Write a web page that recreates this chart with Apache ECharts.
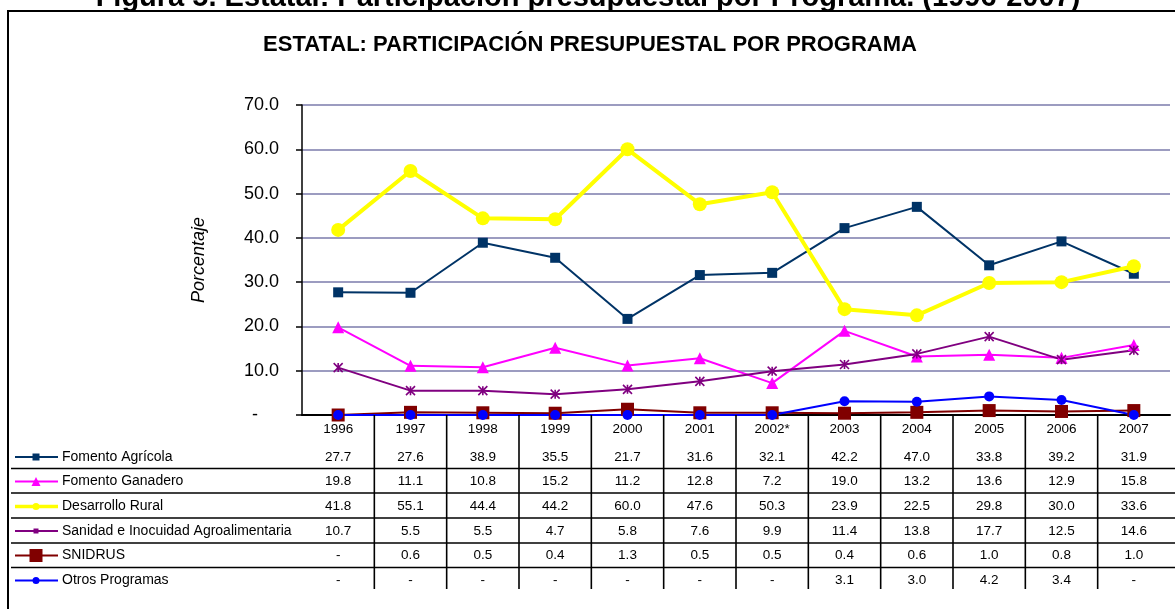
<!DOCTYPE html>
<html>
<head>
<meta charset="utf-8">
<script src="https://cdn.jsdelivr.net/npm/echarts@6/dist/echarts.min.js"></script>
<style>
html, body { margin: 0; padding: 0; background: #fff; }
#chart { width: 1175px; height: 609px; }
</style>
</head>
<body>
<div id="chart"></div>
<script>
// datos de la tabla (null = "-")
var years = ['1996', '1997', '1998', '1999', '2000', '2001', '2002*', '2003', '2004', '2005', '2006', '2007'];
var fomentoAgricola = [27.7, 27.6, 38.9, 35.5, 21.7, 31.6, 32.1, 42.2, 47.0, 33.8, 39.2, 31.9];
var fomentoGanadero = [19.8, 11.1, 10.8, 15.2, 11.2, 12.8, 7.2, 19.0, 13.2, 13.6, 12.9, 15.8];
var desarrolloRural = [41.8, 55.1, 44.4, 44.2, 60.0, 47.6, 50.3, 23.9, 22.5, 29.8, 30.0, 33.6];
var sanidad = [10.7, 5.5, 5.5, 4.7, 5.8, 7.6, 9.9, 11.4, 13.8, 17.7, 12.5, 14.6];
var snidrus = [null, 0.6, 0.5, 0.4, 1.3, 0.5, 0.5, 0.4, 0.6, 1.0, 0.8, 1.0];
var otrosProgramas = [null, null, null, null, null, null, null, 3.1, 3.0, 4.2, 3.4, null];

var seriesNames = ['Fomento Agrícola', 'Fomento Ganadero', 'Desarrollo Rural',
    'Sanidad e Inocuidad Agroalimentaria', 'SNIDRUS', 'Otros Programas'];
var seriesValues = [fomentoAgricola, fomentoGanadero, desarrolloRural, sanidad, snidrus, otrosProgramas];

var FONT = '"Liberation Sans", Arial, sans-serif';
var asterisk = 'path://M5,0L5,10M0,0L10,10M10,0L0,10';

// estilo de cada programa
var styles = [
    { color: '#003366', width: 2, symbol: 'rect', size: 10, key: 'rect', keySize: 7 },
    { color: '#FF00FF', width: 2, symbol: 'triangle', size: 12, key: 'triangle', keySize: 9 },
    { color: '#FFFF00', width: 4, symbol: 'circle', size: 14, key: 'circle', keySize: 7 },
    { color: '#800080', width: 2, symbol: asterisk, size: 9, key: 'rect', keySize: 5 },
    { color: '#800000', width: 2, symbol: 'rect', size: 13, key: 'rect', keySize: 13 },
    { color: '#0000FF', width: 2, symbol: 'circle', size: 10, key: 'circle', keySize: 7 }
];

var series = seriesNames.map(function (name, i) {
    var s = styles[i];
    return {
        name: name,
        type: 'line',
        data: seriesValues[i].map(function (v) { return v == null ? 0 : v; }),   // "-" se grafica en 0
        symbol: s.symbol,
        symbolSize: s.size,
        showAllSymbol: true,
        lineStyle: { color: s.color, width: s.width },
        itemStyle: { color: s.color, borderColor: s.color, borderWidth: s.symbol === asterisk ? 1.6 : 0 },
        emphasis: { disabled: true }
    };
});

var option = {
    animation: false,
    backgroundColor: '#fff',
    textStyle: { fontFamily: FONT },
    grid: { left: 302, right: 5, top: 105, bottom: 194, containLabel: false, outerBoundsMode: 'none' },
    xAxis: {
        type: 'category',
        data: years,
        boundaryGap: true,
        axisLine: { lineStyle: { color: '#000', width: 2 } },
        axisTick: { show: false },
        axisLabel: { color: '#000', fontSize: 13.5, margin: 7, fontFamily: FONT, interval: 0 },
        splitLine: { show: false }
    },
    yAxis: {
        type: 'value',
        min: 0,
        max: 70,
        interval: 10,
        name: 'Porcentaje',
        nameLocation: 'middle',
        nameGap: 94,
        nameTextStyle: { color: '#000', fontSize: 18, fontStyle: 'italic', fontFamily: FONT },
        axisLine: { show: true, lineStyle: { color: '#000', width: 1.5 } },
        axisTick: { show: true, length: 6, lineStyle: { color: '#000', width: 1.5 } },
        axisLabel: {
            color: '#000', fontSize: 18, margin: 23, fontFamily: FONT,
            formatter: function (v) { return v === 0 ? '{d|-}' : v.toFixed(1); },
            rich: { d: { color: '#000', fontSize: 18, fontFamily: FONT, padding: [0, 21, 0, 0] } }
        },
        splitLine: { lineStyle: { color: '#7b7bab', width: 1.5 } }
    },
    series: series
};

var chart = echarts.init(document.getElementById('chart'));
chart.setOption(option);

// tabla de datos debajo del eje
var xs = years.map(function (y, i) { return chart.convertToPixel({ xAxisIndex: 0 }, i); });
var rowY = [457, 481.5, 506.5, 531, 555.5, 580.5];
var sepY = [468.5, 493, 518, 543, 567.5];
var g = [];

function text(str, x, y, size, opts) {
    opts = opts || {};
    return {
        type: 'text', silent: true, z: 10,
        style: {
            text: str, x: x, y: y, fill: '#000',
            fontSize: size, fontFamily: FONT,
            fontWeight: opts.bold ? 'bold' : 'normal',
            align: opts.align || 'center', verticalAlign: 'middle'
        }
    };
}
function line(x1, y1, x2, y2, w, color) {
    return {
        type: 'line', silent: true, z: 10,
        shape: { x1: x1, y1: y1, x2: x2, y2: y2 },
        style: { stroke: color || '#000', lineWidth: w }
    };
}

// marco y títulos
g.push(line(7, 11, 1175, 11, 2));
g.push(line(8, 10, 8, 609, 2));
g.push(text('Figura 5. Estatal: Participación presupuestal por Programa. (1996-2007)', 588, -2, 29, { bold: true }));
g.push(text('ESTATAL: PARTICIPACIÓN PRESUPUESTAL POR PROGRAMA', 590, 45, 22, { bold: true }));

// líneas de la tabla
sepY.forEach(function (y) { g.push(line(11, y, 1175, y, 1.6)); });
for (var i = 1; i < xs.length; i++) {
    var bx = (xs[i - 1] + xs[i]) / 2;
    g.push(line(bx, 415, bx, 589, 1.6));
}

// filas: clave de leyenda, nombre y valores
seriesNames.forEach(function (name, r) {
    var s = styles[r];
    var y = rowY[r];
    g.push(line(15, y, 58, y, s.width === 4 ? 3.5 : 2, s.color));
    var k = s.keySize;
    if (s.key === 'rect') {
        g.push({ type: 'rect', silent: true, z: 11, shape: { x: 36 - k / 2, y: y - k / 2, width: k, height: k }, style: { fill: s.color } });
    } else if (s.key === 'circle') {
        g.push({ type: 'circle', silent: true, z: 11, shape: { cx: 36, cy: y, r: k / 2 }, style: { fill: s.color } });
    } else {
        g.push({ type: 'polygon', silent: true, z: 11, shape: { points: [[36, y - k / 2], [36 + k / 2, y + k / 2], [36 - k / 2, y + k / 2]] }, style: { fill: s.color } });
    }
    g.push(text(name, 62, y, 14, { align: 'left' }));
    seriesValues[r].forEach(function (v, c) {
        g.push(text(v == null ? '-' : v.toFixed(1), xs[c], y, 13.5));
    });
});

chart.setOption({ graphic: g });
</script>
</body>
</html>
